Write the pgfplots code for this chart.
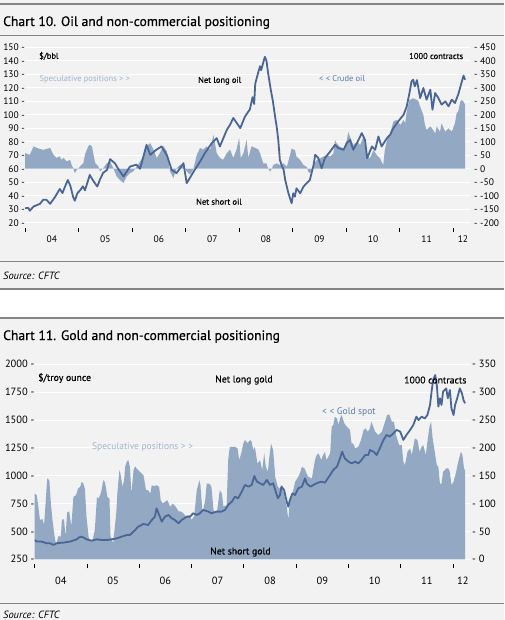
\documentclass[border=0pt]{standalone}
\usepackage{pgfplots}
\pgfplotsset{compat=1.18}
\usepackage{fontspec}
\setmainfont{PT Sans}
\newfontfamily\titlefont[FakeBold=0.6]{PT Sans}
\newfontfamily\notefont[FakeBold=0.35]{PT Sans}
\definecolor{bggray}{HTML}{F2F2F2}
\definecolor{areacol}{HTML}{93A9C3}
\definecolor{linecol}{HTML}{4A6696}
\definecolor{speccol}{HTML}{9FB4CE}
\definecolor{crudecol}{HTML}{5B7AAB}
\definecolor{rulecol}{HTML}{858585}

\pgfplotsset{
  base/.style={scale only axis, axis line style={draw=none},
    /pgf/number format/assume math mode=true, /pgf/number format/1000 sep={},
    ytick style={draw=none}, major tick length=4pt, xtick pos=left},
}

\begin{document}
\begin{tikzpicture}
\useasboundingbox (0,0) rectangle (504pt,-620pt);
\fill[white] (0,0) rectangle (504pt,-620pt);
\fill[bggray] (0,0) rectangle (504pt,-290pt);
\fill[bggray] (0,-317pt) rectangle (504pt,-620pt);
\fill[rulecol] (0,-2.7pt) rectangle (504pt,-4.7pt);
\draw[rulecol, line width=0.8pt] (0,-35pt) -- (504pt,-35pt);
\draw[rulecol, line width=0.8pt] (0,-261.7pt) -- (504pt,-261.7pt);
\fill[rulecol] (0,-288.3pt) rectangle (504pt,-290.3pt);
\fill[rulecol] (0,-316.7pt) rectangle (504pt,-318.7pt);
\draw[rulecol, line width=0.8pt] (0,-603.3pt) -- (504pt,-603.3pt);

\node[anchor=base west, inner sep=0pt, font=\titlefont\fontsize{13.6}{14}\selectfont] at (3pt,-26pt) {Chart 10. Oil and non-commercial positioning};
\node[anchor=base west, inner sep=0pt, font=\fontsize{10.5}{12}\selectfont\itshape] at (3pt,-279pt) {Source: CFTC};
\node[anchor=base west, inner sep=0pt, font=\titlefont\fontsize{13.6}{14}\selectfont] at (3pt,-340pt) {Chart 11. Gold and non-commercial positioning};
\node[anchor=base west, inner sep=0pt, font=\fontsize{10.5}{12}\selectfont\itshape] at (3pt,-618pt) {Source: CFTC};

% ---------------- OIL: positions (right axis) ----------------
\begin{axis}[base, at={(25pt,-222.7pt)}, anchor=south west, width=445pt, height=175.4pt,
  xmin=2004, xmax=2012.311, ymin=-200, ymax=450,
  ytick={-200,-150,...,450}, yticklabel pos=right,
  yticklabel={-\ \pgfmathprintnumber{\tick}},
  yticklabel style={font=\fontsize{9.5}{10}\selectfont, anchor=west, inner sep=0pt, xshift=4pt},
  ymajorgrids, grid style={white, line width=1pt},
  xtick={2004,...,2012}, xticklabels={},
  xtick style={black, line width=0.9pt, yshift=-9.3pt},
  extra x ticks={2004.5,2005.5,2006.5,2007.5,2008.5,2009.5,2010.5,2011.5,2012.18},
  extra x tick labels={04,05,06,07,08,09,10,11,12},
  extra x tick style={major tick length=0pt, xticklabel style={font=\fontsize{9.5}{10}\selectfont, anchor=center, yshift=-16.5pt}},
]
\addplot[fill=areacol, draw=none] table {
2004.00 58
2004.09 52
2004.16 83
2004.22 77
2004.34 70
2004.47 77
2004.53 52
2004.59 40
2004.65 46
2004.68 33
2004.72 40
2004.78 27
2004.84 33
2004.87 15
2004.90 2
2004.93 -16
2004.97 -4
2005.03 9
2005.09 21
2005.12 52
2005.18 83
2005.21 89
2005.25 83
2005.28 52
2005.31 21
2005.37 9
2005.40 -10
2005.46 2
2005.53 21
2005.59 27
2005.65 2
2005.71 -28
2005.77 -41
2005.84 -53
2005.90 -28
2005.96 -16
2006.02 -10
2006.09 9
2006.15 27
2006.21 46
2006.27 83
2006.34 95
2006.40 71
2006.46 40
2006.52 58
2006.58 85
2006.65 64
2006.71 -10
2006.77 -35
2006.83 2
2006.90 15
2006.96 9
2007.02 -10
2007.08 -22
2007.14 -4
2007.21 52
2007.27 77
2007.33 71
2007.39 83
2007.46 71
2007.52 126
2007.58 58
2007.64 40
2007.70 33
2007.77 58
2007.83 71
2007.89 40
2007.95 71
2008.00 114
2008.03 40
2008.08 58
2008.14 108
2008.17 40
2008.23 83
2008.30 77
2008.36 71
2008.39 57
2008.45 20
2008.51 20
2008.54 1
2008.58 -11
2008.61 1
2008.64 14
2008.70 20
2008.76 14
2008.83 20
2008.89 7
2008.95 51
2008.98 75
2009.04 69
2009.07 45
2009.14 32
2009.20 14
2009.26 7
2009.29 -11
2009.32 -17
2009.35 -5
2009.39 14
2009.45 32
2009.51 38
2009.57 45
2009.64 51
2009.70 45
2009.76 57
2009.79 106
2009.82 94
2009.88 82
2009.95 75
2010.01 106
2010.04 137
2010.07 119
2010.13 88
2010.20 100
2010.26 88
2010.32 119
2010.38 51
2010.44 38
2010.51 69
2010.57 51
2010.63 38
2010.69 14
2010.72 69
2010.76 106
2010.82 131
2010.88 175
2010.94 181
2011.01 162
2011.07 181
2011.10 168
2011.13 212
2011.18 255
2011.25 261
2011.32 255
2011.35 249
2011.38 230
2011.44 199
2011.47 162
2011.50 144
2011.57 157
2011.60 150
2011.66 131
2011.69 157
2011.75 137
2011.78 168
2011.85 137
2011.91 150
2011.97 137
2012.03 168
2012.06 205
2012.09 212
2012.13 249
2012.16 255
2012.19 249
2012.22 236
} \closedcycle;
\end{axis}

% ---------------- OIL: price (left axis) ----------------
\begin{axis}[base, at={(25pt,-222.7pt)}, anchor=south west, width=445pt, height=175.4pt,
  xmin=2004, xmax=2012.311, ymin=20, ymax=150,
  ytick={20,30,...,150}, yticklabel pos=left,
  yticklabel={\pgfmathprintnumber{\tick}\ -},
  yticklabel style={font=\fontsize{9.5}{10}\selectfont, anchor=east, inner sep=0pt, xshift=0pt},
  xtick=\empty,
]
\addplot[linecol, line width=1.8pt, line join=round] table {
2004.00 30.7
2004.06 31
2004.09 28.9
2004.16 32
2004.22 33
2004.28 34
2004.34 37
2004.40 37
2004.47 34
2004.56 39
2004.62 43
2004.65 45
2004.70 42
2004.75 47
2004.80 51.7
2004.85 47
2004.90 39
2004.93 36.3
2004.98 42
2005.03 44
2005.08 47
2005.12 44
2005.21 55.4
2005.26 52
2005.31 49
2005.35 46.8
2005.40 52
2005.46 57
2005.53 59
2005.59 67.1
2005.68 64
2005.74 60
2005.84 54.2
2005.96 61.6
2006.08 63
2006.15 60
2006.27 77.7
2006.34 70.3
2006.45 74
2006.55 76.5
2006.65 70
2006.74 59.2
2006.83 56.7
2006.96 64.1
2007.02 49.3
2007.15 57.9
2007.27 65.3
2007.36 71.6
2007.49 79
2007.58 82.7
2007.64 76.5
2007.77 88.9
2007.83 92.6
2007.89 97.6
2008.02 90.1
2008.11 98.8
2008.20 104
2008.25 113
2008.28 108
2008.30 123
2008.36 132
2008.39 136
2008.41 133
2008.48 143
2008.51 140
2008.54 131
2008.59 118.6
2008.63 110
2008.67 98.8
2008.70 91.3
2008.73 81.4
2008.76 66.6
2008.79 62.9
2008.83 59.2
2008.86 51.7
2008.89 46.7
2008.92 41.8
2008.95 38.1
2008.98 34.4
2009.01 41.8
2009.04 39.3
2009.07 45.5
2009.14 41.8
2009.20 46.7
2009.26 49.3
2009.32 51.7
2009.39 62.9
2009.42 70.3
2009.48 67.8
2009.54 60.4
2009.60 67.8
2009.70 72.8
2009.79 77.7
2009.85 75.3
2009.95 74
2010.01 79
2010.07 81.4
2010.13 74
2010.20 79
2010.29 86.4
2010.35 81.4
2010.39 67.8
2010.48 76.5
2010.54 74
2010.60 83.9
2010.66 76.5
2010.76 82.7
2010.82 85.2
2010.88 90.1
2010.97 95.1
2011.07 100
2011.13 106.2
2011.18 116.1
2011.22 124.8
2011.25 126
2011.28 121
2011.32 125.7
2011.38 112.4
2011.44 119.8
2011.50 111.2
2011.57 118.6
2011.61 103.7
2011.66 116.1
2011.72 112.4
2011.78 107.5
2011.85 109.9
2011.91 106.2
2011.97 111.2
2012.03 108.7
2012.09 114.9
2012.16 124.8
2012.19 129
2012.22 126
};
\end{axis}

% ---------------- GOLD: positions (right axis) ----------------
\begin{axis}[base, at={(34.7pt,-559.3pt)}, anchor=south west, width=435.3pt, height=195pt,
  xmin=2004, xmax=2012.325, ymin=0, ymax=350,
  ytick={0,50,...,350}, yticklabel pos=right,
  yticklabel={-\ \pgfmathprintnumber{\tick}},
  yticklabel style={font=\fontsize{10.5}{11}\selectfont, anchor=west, inner sep=0pt, xshift=2pt},
  ymajorgrids, grid style={white, line width=1pt},
  xtick={2004,...,2012}, xticklabels={},
  xtick style={black, line width=0.9pt, yshift=-9pt},
  extra x ticks={2004.5,2005.5,2006.5,2007.5,2008.5,2009.5,2010.5,2011.5,2012.19},
  extra x tick labels={04,05,06,07,08,09,10,11,12},
  extra x tick style={major tick length=0pt, xticklabel style={font=\fontsize{10.5}{11}\selectfont, anchor=center, yshift=-21.5pt}},
]
\addplot[fill=areacol, draw=none] table {
2004.00 118
2004.04 115
2004.07 94
2004.10 71
2004.15 72
2004.18 62
2004.22 118
2004.24 145
2004.28 142
2004.31 100
2004.34 71
2004.38 41
2004.41 26
2004.45 41
2004.50 41
2004.52 71
2004.56 72
2004.59 41
2004.62 84
2004.66 86
2004.70 59
2004.74 112
2004.79 115
2004.83 127
2004.87 130
2004.90 139
2004.93 136
2004.96 127
2004.99 77
2005.03 41
2005.06 32
2005.11 35
2005.15 53
2005.19 112
2005.22 109
2005.25 115
2005.28 124
2005.31 142
2005.34 139
2005.36 130
2005.39 112
2005.43 109
2005.45 41
2005.50 29
2005.56 83
2005.58 118
2005.62 160
2005.64 154
2005.68 130
2005.71 142
2005.73 166
2005.76 175
2005.79 178
2005.82 166
2005.85 118
2005.89 160
2005.92 167
2005.95 163
2006.01 157
2006.08 151
2006.13 124
2006.17 124
2006.21 118
2006.24 133
2006.28 131
2006.33 133
2006.38 130
2006.41 106
2006.45 100
2006.49 103
2006.54 106
2006.59 94
2006.64 100
2006.70 94
2006.75 86
2006.79 86
2006.84 83
2006.89 77
2006.96 79
2007.00 71
2007.05 77
2007.10 124
2007.15 142
2007.17 133
2007.21 83
2007.26 106
2007.29 136
2007.34 136
2007.38 130
2007.42 88
2007.45 86
2007.49 88
2007.54 124
2007.58 118
2007.61 94
2007.64 97
2007.67 94
2007.70 178
2007.73 202
2007.77 202
2007.81 202
2007.83 202
2007.88 199
2007.91 178
2007.95 190
2007.99 208
2008.02 214
2008.07 209
2008.12 214
2008.15 211
2008.18 196
2008.21 202
2008.26 172
2008.31 178
2008.35 160
2008.39 190
2008.42 166
2008.46 157
2008.48 178
2008.52 208
2008.56 196
2008.60 148
2008.65 130
2008.69 127
2008.72 133
2008.77 118
2008.82 94
2008.85 71
2008.88 106
2008.93 118
2008.98 139
2009.04 148
2009.07 154
2009.11 166
2009.16 163
2009.20 154
2009.23 148
2009.30 145
2009.36 178
2009.39 187
2009.43 190
2009.48 178
2009.50 184
2009.55 193
2009.58 178
2009.65 190
2009.68 238
2009.71 241
2009.74 256
2009.78 253
2009.81 241
2009.84 253
2009.87 259
2009.92 244
2009.97 238
2010.03 232
2010.06 208
2010.09 208
2010.13 199
2010.19 202
2010.24 214
2010.29 232
2010.33 235
2010.37 229
2010.41 235
2010.44 247
2010.51 229
2010.57 223
2010.64 229
2010.70 247
2010.74 259
2010.78 260
2010.83 247
2010.87 247
2010.91 223
2010.97 205
2011.02 205
2011.05 175
2011.08 169
2011.13 193
2011.18 199
2011.21 187
2011.24 202
2011.27 217
2011.32 214
2011.36 193
2011.40 202
2011.43 205
2011.48 187
2011.51 211
2011.55 238
2011.58 247
2011.61 217
2011.66 187
2011.69 169
2011.72 166
2011.75 136
2011.78 136
2011.81 157
2011.87 163
2011.91 163
2011.94 157
2011.97 133
2012.01 139
2012.06 157
2012.10 175
2012.15 193
2012.18 187
2012.21 163
2012.23 160
} \closedcycle;
\end{axis}

% ---------------- GOLD: price (left axis) ----------------
\begin{axis}[base, at={(34.7pt,-559.3pt)}, anchor=south west, width=435.3pt, height=195pt,
  xmin=2004, xmax=2012.325, ymin=250, ymax=2000,
  ytick={250,500,...,2000}, yticklabel pos=left,
  yticklabel={\pgfmathprintnumber{\tick}\ -},
  yticklabel style={font=\fontsize{10.5}{11}\selectfont, anchor=east, inner sep=0pt, xshift=0pt},
  xtick=\empty,
]
\addplot[linecol, line width=1.8pt, line join=round] table {
2004.00 423
2004.04 409
2004.13 409
2004.23 394
2004.29 394
2004.36 379
2004.42 394
2004.55 400
2004.68 409
2004.80 429
2004.87 453
2004.93 447
2004.99 429
2005.09 417
2005.19 429
2005.28 423
2005.38 423
2005.47 429
2005.57 438
2005.66 453
2005.76 468
2005.82 468
2005.89 498
2005.98 543
2006.08 567
2006.17 558
2006.24 603
2006.30 633
2006.33 708
2006.38 648
2006.43 588
2006.49 633
2006.56 648
2006.62 618
2006.68 603
2006.75 573
2006.81 603
2006.91 633
2006.97 633
2007.03 663
2007.10 648
2007.16 663
2007.22 693
2007.32 678
2007.38 663
2007.48 678
2007.57 678
2007.64 693
2007.70 738
2007.77 767
2007.83 812
2007.89 797
2007.96 857
2008.02 917
2008.09 902
2008.15 917
2008.20 998
2008.25 947
2008.31 932
2008.37 917
2008.44 962
2008.50 917
2008.56 932
2008.60 872
2008.65 797
2008.69 827
2008.72 902
2008.77 872
2008.82 767
2008.85 722
2008.88 782
2008.93 842
2008.98 827
2009.04 887
2009.11 902
2009.17 977
2009.20 932
2009.27 902
2009.33 917
2009.39 932
2009.48 947
2009.55 938
2009.65 1007
2009.71 1052
2009.78 1081
2009.84 1156
2009.88 1216
2009.93 1156
2010.00 1126
2010.06 1111
2010.13 1126
2010.19 1111
2010.25 1141
2010.32 1186
2010.38 1186
2010.41 1231
2010.48 1216
2010.54 1186
2010.60 1246
2010.67 1321
2010.73 1366
2010.79 1351
2010.86 1381
2010.92 1411
2010.99 1396
2011.05 1321
2011.11 1366
2011.18 1411
2011.24 1455
2011.30 1530
2011.34 1500
2011.40 1530
2011.46 1515
2011.51 1545
2011.56 1635
2011.59 1755
2011.62 1859
2011.66 1904
2011.69 1814
2011.72 1620
2011.75 1695
2011.78 1635
2011.81 1755
2011.87 1784
2011.90 1695
2011.94 1769
2011.97 1605
2012.01 1545
2012.04 1635
2012.08 1695
2012.13 1784
2012.17 1740
2012.20 1680
2012.23 1650
};
\end{axis}

% ---------------- annotations ----------------
\begin{scope}[every node/.style={anchor=west, inner sep=0pt, font=\notefont\fontsize{8.5}{9}\selectfont}]
\node at (39pt,-56pt) {\$/bbl};
\node[text=speccol, font=\fontsize{8.5}{9}\selectfont] at (39.5pt,-79.3pt) {Speculative positions > >};
\node at (198pt,-80.7pt) {Net long oil};
\node at (196pt,-201.7pt) {Net short oil};
\node[text=crudecol, font=\fontsize{8.5}{9}\selectfont] at (319pt,-78.3pt) {< < Crude oil};
\node at (409pt,-56pt) {1000 contracts};
\end{scope}
\begin{scope}[every node/.style={anchor=west, inner sep=0pt, font=\notefont\fontsize{9.8}{10}\selectfont}]
\node at (38pt,-378pt) {\$/troy ounce};
\node at (215pt,-380pt) {Net long gold};
\node[text=speccol, font=\fontsize{9.5}{10}\selectfont] at (92pt,-447pt) {Speculative positions > >};
\node[text=crudecol, font=\fontsize{9.5}{10}\selectfont] at (322pt,-412pt) {< < Gold spot};
\node at (404pt,-380pt) {1000 contracts};
\node at (210pt,-552pt) {Net short gold};
\end{scope}
\end{tikzpicture}
\end{document}
